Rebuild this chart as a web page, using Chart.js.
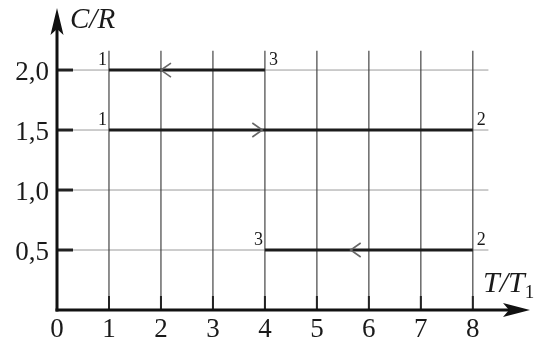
<!DOCTYPE html>
<html>
<head>
<meta charset="utf-8">
<script src="https://cdn.jsdelivr.net/npm/chart.js@4.4.0/dist/chart.umd.min.js"></script>
<style>
  html, body { margin: 0; padding: 0; background: #fff; }
  canvas { display: block; }
</style>
</head>
<body>
<canvas id="chart" width="536" height="340"></canvas>
<script>
// axis ticks: T/T1 along x, C/R along y
var tTicks = [0, 1, 2, 3, 4, 5, 6, 7, 8];
var tTickLabels = ['0', '1', '2', '3', '4', '5', '6', '7', '8'];
var cTicks = [0.5, 1.0, 1.5, 2.0];
var cTickLabels = ['0,5', '1,0', '1,5', '2,0'];

// the three processes (start and end states)
var process13T = [1, 4];
var process13C = [2.0, 2.0];
var process12T = [1, 8];
var process12C = [1.5, 1.5];
var process32T = [4, 8];
var process32C = [0.5, 0.5];

// state numbers written next to the line ends
var stateNames = ['1', '3', '1', '2', '3', '2'];
var stateT = [1, 4, 1, 8, 4, 8];
var stateC = [2.0, 2.0, 1.5, 1.5, 0.5, 0.5];
var stateSide = ['left', 'right', 'left', 'right', 'left', 'right'];

// direction arrows on the lines
var arrowT = [2.0, 3.95, 5.65];
var arrowC = [2.0, 1.5, 0.5];
var arrowDir = [-1, 1, -1];

function toPoints(ts, cs) {
    return ts.map(function (t, i) { return { x: t, y: cs[i] }; });
}

var serif = '"Liberation Serif", "Times New Roman", serif';

function seg(ctx, x1, y1, x2, y2) {
    ctx.beginPath();
    ctx.moveTo(x1, y1);
    ctx.lineTo(x2, y2);
    ctx.stroke();
}

var physicsAxes = {
    id: 'physicsAxes',
    beforeDatasetsDraw: function (chart) {
        var ctx = chart.ctx, xs = chart.scales.x, ys = chart.scales.y;
        var x0 = xs.getPixelForValue(0), y0 = ys.getPixelForValue(0);
        var gridTop = ys.getPixelForValue(2.16), gridRight = xs.getPixelForValue(8.3);
        ctx.save();
        // horizontal grid
        ctx.strokeStyle = '#9a9a9a';
        ctx.lineWidth = 1;
        cTicks.forEach(function (c) {
            var py = ys.getPixelForValue(c);
            seg(ctx, x0, py, gridRight, py);
        });
        // vertical grid
        ctx.strokeStyle = '#444';
        ctx.lineWidth = 1.2;
        tTicks.forEach(function (t) {
            if (t === 0) return;
            var px = xs.getPixelForValue(t);
            seg(ctx, px, y0, px, gridTop);
        });
        // short tick marks
        ctx.strokeStyle = '#222';
        ctx.lineWidth = 3;
        cTicks.forEach(function (c) {
            var py = ys.getPixelForValue(c);
            seg(ctx, x0, py, x0 + 16, py);
        });
        ctx.lineWidth = 2;
        tTicks.forEach(function (t) {
            if (t === 0) return;
            var px = xs.getPixelForValue(t);
            seg(ctx, px, y0, px, y0 - 14);
        });
        ctx.restore();
    },
    afterDatasetsDraw: function (chart) {
        var ctx = chart.ctx, xs = chart.scales.x, ys = chart.scales.y;
        var x0 = xs.getPixelForValue(0), y0 = ys.getPixelForValue(0);
        var area = chart.chartArea;
        var tipY = area.top, tipX = area.right;
        ctx.save();
        ctx.fillStyle = '#111';
        ctx.strokeStyle = '#111';
        ctx.lineWidth = 3;
        // axes
        seg(ctx, x0, y0 + 1.5, x0, tipY + 20);
        seg(ctx, x0 - 1.5, y0, tipX - 20, y0);
        ctx.beginPath();
        ctx.moveTo(x0, tipY);
        ctx.lineTo(x0 - 6.5, tipY + 27);
        ctx.lineTo(x0, tipY + 21);
        ctx.lineTo(x0 + 6.5, tipY + 27);
        ctx.closePath();
        ctx.fill();
        ctx.beginPath();
        ctx.moveTo(tipX, y0);
        ctx.lineTo(tipX - 27, y0 - 7);
        ctx.lineTo(tipX - 21, y0);
        ctx.lineTo(tipX - 27, y0 + 7);
        ctx.closePath();
        ctx.fill();

        // direction arrows
        ctx.strokeStyle = '#666';
        ctx.lineWidth = 1.6;
        arrowT.forEach(function (t, i) {
            var px = xs.getPixelForValue(t), py = ys.getPixelForValue(arrowC[i]);
            var back = -arrowDir[i] * 10;
            ctx.beginPath();
            ctx.moveTo(px + back, py - 7);
            ctx.lineTo(px, py);
            ctx.lineTo(px + back, py + 7);
            ctx.stroke();
        });

        // tick labels
        ctx.fillStyle = '#1a1a1a';
        ctx.textBaseline = 'alphabetic';
        ctx.font = '27px ' + serif;
        ctx.textAlign = 'right';
        cTicks.forEach(function (c, i) {
            ctx.fillText(cTickLabels[i], x0 - 8, ys.getPixelForValue(c) + 10);
        });
        ctx.textAlign = 'center';
        tTicks.forEach(function (t, i) {
            ctx.fillText(tTickLabels[i], xs.getPixelForValue(t), y0 + 27);
        });

        // state numbers
        ctx.font = '18px ' + serif;
        stateNames.forEach(function (name, i) {
            var px = xs.getPixelForValue(stateT[i]), py = ys.getPixelForValue(stateC[i]);
            if (stateSide[i] === 'left') {
                ctx.textAlign = 'right';
                ctx.fillText(name, px - 2, py - 5);
            } else {
                ctx.textAlign = 'left';
                ctx.fillText(name, px + 4, py - 5);
            }
        });

        // axis titles
        ctx.textAlign = 'left';
        ctx.font = 'italic 29px ' + serif;
        ctx.fillText('C/R', x0 + 13, tipY + 20);
        ctx.font = 'italic 30px ' + serif;
        ctx.fillText('T/T', 483, y0 - 18);
        var w = ctx.measureText('T/T').width;
        ctx.font = '19px ' + serif;
        ctx.fillText('1', 483 + w, y0 - 12);
        ctx.restore();
    }
};

var lineStyle = {
    borderColor: '#1c1c1c',
    borderWidth: 3,
    pointRadius: 0,
    fill: false
};

var chart = new Chart(document.getElementById('chart'), {
    type: 'line',
    data: {
        datasets: [
            Object.assign({ label: '1-3', data: toPoints(process13T, process13C) }, lineStyle),
            Object.assign({ label: '1-2', data: toPoints(process12T, process12C) }, lineStyle),
            Object.assign({ label: '3-2', data: toPoints(process32T, process32C) }, lineStyle)
        ]
    },
    options: {
        responsive: false,
        animation: false,
        layout: { padding: { left: 57, right: 6, top: 8, bottom: 30 } },
        scales: {
            x: { type: 'linear', min: 0, max: 9.1, display: false },
            y: { type: 'linear', min: 0, max: 2.517, display: false }
        },
        plugins: {
            legend: { display: false },
            tooltip: { enabled: false }
        }
    },
    plugins: [physicsAxes]
});
</script>
</body>
</html>
